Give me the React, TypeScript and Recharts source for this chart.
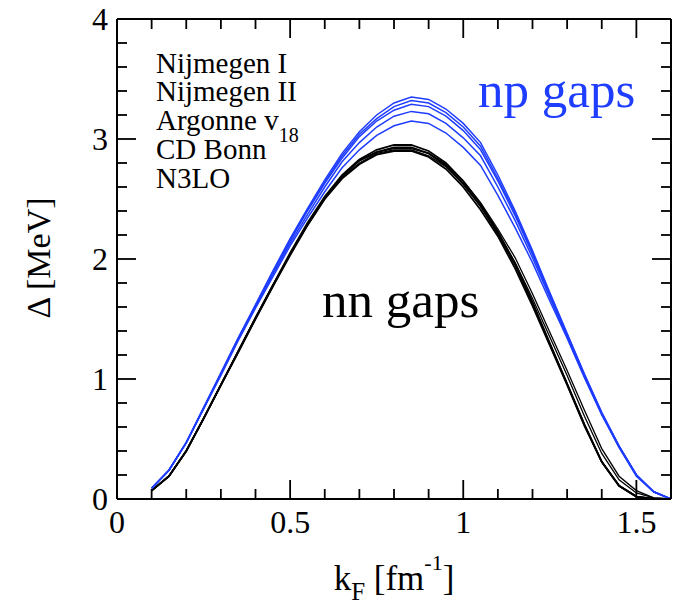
import React from "react";
import { LineChart, Line, XAxis, YAxis, ReferenceLine } from "recharts";

const kF = [0.1, 0.15, 0.2, 0.25, 0.3, 0.35, 0.4, 0.45, 0.5, 0.55, 0.6, 0.65, 0.7, 0.75, 0.8, 0.85, 0.9, 0.95, 1.0, 1.05, 1.1, 1.15, 1.2, 1.25, 1.3, 1.35, 1.4, 1.45, 1.5, 1.55, 1.6];

const np1 = [0.09, 0.24, 0.47, 0.76, 1.05, 1.34, 1.62, 1.9, 2.17, 2.42, 2.66, 2.88, 3.06, 3.2, 3.3, 3.35, 3.33, 3.25, 3.13, 2.97, 2.7, 2.4, 2.07, 1.72, 1.38, 1.04, 0.72, 0.44, 0.2, 0.06, 0.0];
const np2 = [0.09, 0.24, 0.47, 0.76, 1.05, 1.34, 1.61, 1.89, 2.16, 2.41, 2.64, 2.86, 3.04, 3.17, 3.27, 3.32, 3.3, 3.22, 3.1, 2.94, 2.67, 2.38, 2.05, 1.71, 1.37, 1.04, 0.72, 0.44, 0.2, 0.06, 0.0];
const np3 = [0.09, 0.24, 0.47, 0.76, 1.04, 1.33, 1.61, 1.89, 2.15, 2.4, 2.63, 2.84, 3.02, 3.15, 3.24, 3.29, 3.27, 3.19, 3.07, 2.91, 2.65, 2.36, 2.04, 1.7, 1.37, 1.03, 0.71, 0.44, 0.2, 0.06, 0.0];
const np4 = [0.09, 0.24, 0.47, 0.75, 1.04, 1.33, 1.6, 1.87, 2.13, 2.37, 2.6, 2.81, 2.97, 3.1, 3.19, 3.23, 3.21, 3.13, 3.01, 2.86, 2.6, 2.32, 2.01, 1.68, 1.35, 1.02, 0.71, 0.43, 0.2, 0.06, 0.0];
const np5 = [0.09, 0.24, 0.47, 0.75, 1.03, 1.32, 1.59, 1.85, 2.11, 2.34, 2.56, 2.76, 2.91, 3.03, 3.11, 3.15, 3.13, 3.05, 2.93, 2.78, 2.53, 2.26, 1.97, 1.65, 1.34, 1.01, 0.7, 0.43, 0.19, 0.06, 0.0];

const nn1 = [0.07, 0.19, 0.4, 0.67, 0.95, 1.23, 1.51, 1.78, 2.05, 2.3, 2.52, 2.7, 2.83, 2.91, 2.95, 2.95, 2.9, 2.8, 2.65, 2.46, 2.23, 1.96, 1.64, 1.3, 0.96, 0.62, 0.31, 0.11, 0.02, 0.0, 0.0];
const nn2 = [0.07, 0.19, 0.4, 0.67, 0.95, 1.23, 1.51, 1.78, 2.04, 2.29, 2.51, 2.69, 2.82, 2.89, 2.93, 2.93, 2.88, 2.78, 2.63, 2.44, 2.21, 1.95, 1.63, 1.29, 0.96, 0.62, 0.31, 0.11, 0.02, 0.0, 0.0];
const nn3 = [0.07, 0.19, 0.4, 0.67, 0.95, 1.22, 1.5, 1.77, 2.03, 2.28, 2.5, 2.67, 2.79, 2.87, 2.9, 2.9, 2.85, 2.75, 2.6, 2.41, 2.19, 1.92, 1.61, 1.28, 0.95, 0.61, 0.31, 0.11, 0.02, 0.0, 0.0];
const nn4 = [0.07, 0.19, 0.4, 0.67, 0.95, 1.23, 1.51, 1.78, 2.04, 2.29, 2.51, 2.69, 2.82, 2.89, 2.92, 2.92, 2.88, 2.79, 2.65, 2.47, 2.25, 2.01, 1.71, 1.39, 1.07, 0.74, 0.42, 0.19, 0.07, 0.01, 0.0];
const nn5 = [0.07, 0.19, 0.4, 0.67, 0.95, 1.23, 1.5, 1.77, 2.04, 2.28, 2.5, 2.68, 2.8, 2.88, 2.91, 2.91, 2.86, 2.77, 2.62, 2.44, 2.22, 1.97, 1.67, 1.35, 1.03, 0.69, 0.38, 0.16, 0.05, 0.01, 0.0];

const xTicks = [0, 0.1, 0.2, 0.3, 0.4, 0.5, 0.6, 0.7, 0.8, 0.9, 1.0, 1.1, 1.2, 1.3, 1.4, 1.5, 1.6];
const xMajor = [0, 0.5, 1, 1.5];
const xLabels = ["0", "0.5", "1", "1.5"];
const yTicks = [0, 0.2, 0.4, 0.6, 0.8, 1, 1.2, 1.4, 1.6, 1.8, 2, 2.2, 2.4, 2.6, 2.8, 3, 3.2, 3.4, 3.6, 3.8, 4];
const yMajor = [0, 1, 2, 3, 4];
const yLabels = ["0", "1", "2", "3", "4"];

const X_MIN = 0;
const X_MAX = 1.6;
const Y_MIN = 0;
const Y_MAX = 4;

const legendNames = ["Nijmegen I", "Nijmegen II", "Argonne v", "CD Bonn", "N3LO"];

const data = kF.map((k, i) => ({
  k,
  np1: np1[i], np2: np2[i], np3: np3[i], np4: np4[i], np5: np5[i],
  nn1: nn1[i], nn2: nn2[i], nn3: nn3[i], nn4: nn4[i], nn5: nn5[i],
}));

const FONT = "'Liberation Serif', 'Times New Roman', Times, serif";
const BLUE = "#1f3dff";

// layout of the chart (plot box = left axis width .. width - right margin, top margin .. height - x axis height)
const W = 679;
const H = 607;
const M_TOP = 19;
const M_RIGHT = 8;
const Y_AXIS_W = 117;
const X_AXIS_H = 108;
const PLOT_L = Y_AXIS_W;
const PLOT_T = M_TOP;
const PLOT_W = W - M_RIGHT - Y_AXIS_W;
const PLOT_H = H - X_AXIS_H - M_TOP;
const PLOT_R = PLOT_L + PLOT_W;
const PLOT_B = PLOT_T + PLOT_H;
const MAJ_PX = 19;
const MIN_PX = 10;
const TICK_W = 1.8;

// same linear mapping as the chart's axes (used for the frame's inward tick marks)
const sx = (v: number) => PLOT_L + ((v - X_MIN) / (X_MAX - X_MIN)) * PLOT_W;
const sy = (v: number) => PLOT_B - ((v - Y_MIN) / (Y_MAX - Y_MIN)) * PLOT_H;

const majorIndex = (v: number, list: number[]) => list.findIndex((m) => Math.abs(m - v) < 1e-6);

const BottomLabel = (props: any) => {
  const { x, y, payload } = props;
  const idx = majorIndex(payload.value, xMajor);
  if (idx < 0) return <g />;
  return (
    <text x={x} y={y + 34} textAnchor="middle" fontFamily={FONT} fontSize={32} fill="#000">
      {xLabels[idx]}
    </text>
  );
};

const LeftLabel = (props: any) => {
  const { x, y, payload } = props;
  const idx = majorIndex(payload.value, yMajor);
  if (idx < 0) return <g />;
  return (
    <text x={x - 9} y={y + 11} textAnchor="end" fontFamily={FONT} fontSize={32} fill="#000">
      {yLabels[idx]}
    </text>
  );
};

function FrameTicks() {
  const marks: any[] = [];
  xTicks.slice(1, -1).forEach((v) => {
    const len = majorIndex(v, xMajor) >= 0 ? MAJ_PX : MIN_PX;
    const x = sx(v);
    marks.push(<rect key={`b${v}`} x={x - TICK_W / 2} y={PLOT_B - len} width={TICK_W} height={len} fill="#000" />);
    marks.push(<rect key={`t${v}`} x={x - TICK_W / 2} y={PLOT_T} width={TICK_W} height={len} fill="#000" />);
  });
  yTicks.slice(1, -1).forEach((v) => {
    const len = majorIndex(v, yMajor) >= 0 ? MAJ_PX : MIN_PX;
    const y = sy(v);
    marks.push(<rect key={`l${v}`} x={PLOT_L} y={y - TICK_W / 2} width={len} height={TICK_W} fill="#000" />);
    marks.push(<rect key={`r${v}`} x={PLOT_R - len} y={y - TICK_W / 2} width={len} height={TICK_W} fill="#000" />);
  });
  return <g>{marks}</g>;
}

export default function App() {
  const blueKeys = ["np5", "np4", "np3", "np2", "np1"];
  const blackKeys = [
    { key: "nn5", w: 1.3 },
    { key: "nn4", w: 1.3 },
    { key: "nn3", w: 1.8 },
    { key: "nn2", w: 1.8 },
    { key: "nn1", w: 1.8 },
  ];

  return (
    <div style={{ position: "absolute", left: 0, top: 0, width: W, height: H, background: "#fff" }}>
      <LineChart width={W} height={H} data={data} margin={{ top: M_TOP, right: M_RIGHT, left: 0, bottom: 0 }}>
        <XAxis
          dataKey="k"
          type="number"
          domain={[X_MIN, X_MAX]}
          allowDataOverflow
          ticks={xMajor}
          interval={0}
          height={X_AXIS_H}
          tickSize={0}
          tickMargin={0}
          tickLine={false}
          axisLine={{ stroke: "#000", strokeWidth: 2 }}
          tick={<BottomLabel />}
        />
        <YAxis
          type="number"
          domain={[Y_MIN, Y_MAX]}
          allowDataOverflow
          ticks={yMajor}
          interval={0}
          width={Y_AXIS_W}
          tickSize={0}
          tickMargin={0}
          tickLine={false}
          axisLine={{ stroke: "#000", strokeWidth: 2 }}
          tick={<LeftLabel />}
        />
        <ReferenceLine y={Y_MAX} stroke="#000" strokeWidth={2} />
        <ReferenceLine x={X_MAX} stroke="#000" strokeWidth={2} />
        {blackKeys.map((b) => (
          <Line key={b.key} type="linear" dataKey={b.key} stroke="#000" strokeWidth={b.w} dot={false} isAnimationActive={false} />
        ))}
        {blueKeys.map((k) => (
          <Line key={k} type="linear" dataKey={k} stroke={BLUE} strokeWidth={1.5} dot={false} isAnimationActive={false} />
        ))}
      </LineChart>
      <svg width={W} height={H} style={{ position: "absolute", left: 0, top: 0, pointerEvents: "none" }}>
        <FrameTicks />
        <g fontFamily={FONT} fill="#000">
          <text x={156} y={73} fontSize={29}>{legendNames[0]}</text>
          <text x={156} y={101} fontSize={29}>{legendNames[1]}</text>
          <text x={156} y={130} fontSize={29}>
            {legendNames[2]}
            <tspan fontSize={20} dy={12}>18</tspan>
          </text>
          <text x={156} y={159} fontSize={29}>{legendNames[3]}</text>
          <text x={156} y={188} fontSize={29}>{legendNames[4]}</text>
          <text x={478} y={107} fontSize={51} fill={BLUE}>np gaps</text>
          <text x={322} y={317} fontSize={51}>nn gaps</text>
          <text x={50} y={258} fontSize={34} textAnchor="middle" transform="rotate(-90, 50, 258)">
            Δ [MeV]
          </text>
          <text x={394} y={590} fontSize={35} textAnchor="middle">
            k<tspan fontSize={25} dy={10}>F</tspan>
            <tspan dy={-10}> [fm</tspan>
            <tspan fontSize={22} dy={-20}>-1</tspan>
            <tspan dy={20}>]</tspan>
          </text>
        </g>
      </svg>
    </div>
  );
}
